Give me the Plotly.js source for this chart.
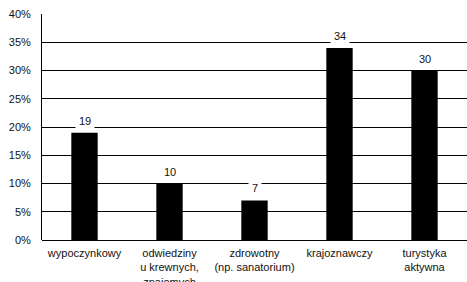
<!DOCTYPE html>
<html><head><meta charset="utf-8">
<script src="https://cdn.plot.ly/plotly-3.0.1.min.js"></script>
<style>html,body{margin:0;padding:0;background:#fff}#c{width:467px;height:282px}</style>
</head><body><div id="c"></div>
<script>
const categories = ["wypoczynkowy", "odwiedziny<br>u krewnych,<br>znajomych", "zdrowotny<br>(np. sanatorium)", "krajoznawczy", "turystyka<br>aktywna"];
const values = [19, 10, 7, 34, 30];
const yTickVals = [0, 5, 10, 15, 20, 25, 30, 35, 40];
const yTickText = ["0%", "5%", "10%", "15%", "20%", "25%", "30%", "35%", "40%"];

const font = {family: "Liberation Sans, Arial, sans-serif", size: 11, color: "#111"};
const annotations = categories.map((c, i) => ({
  x: c, y: values[i], xref: "x", yref: "y",
  text: String(values[i]), showarrow: false,
  yanchor: "bottom", yshift: 2,
  bgcolor: "#fff", borderpad: 3, font: font
}));

Plotly.newPlot("c", [{
  type: "bar", x: categories, y: values,
  marker: {color: "#000"}, hoverinfo: "none"
}], {
  width: 467, height: 282,
  margin: {l: 42, r: 0, t: 14, b: 42, pad: 0},
  paper_bgcolor: "#fff", plot_bgcolor: "#fff",
  font: font, showlegend: false, bargap: 0.69,
  xaxis: {type: "category", showgrid: false, zeroline: false, showline: false,
          ticks: "", ticklabelstandoff: 5, tickfont: font, fixedrange: true},
  yaxis: {range: [0, 40], tickmode: "array", tickvals: yTickVals, ticktext: yTickText,
          showgrid: true, gridcolor: "#000", gridwidth: 1,
          showline: true, linecolor: "#000", linewidth: 1,
          zeroline: true, zerolinecolor: "#000", zerolinewidth: 1,
          ticks: "", ticklabelstandoff: 8, tickfont: font, fixedrange: true},
  annotations: annotations
}, {staticPlot: true, displayModeBar: false});
</script></body></html>
